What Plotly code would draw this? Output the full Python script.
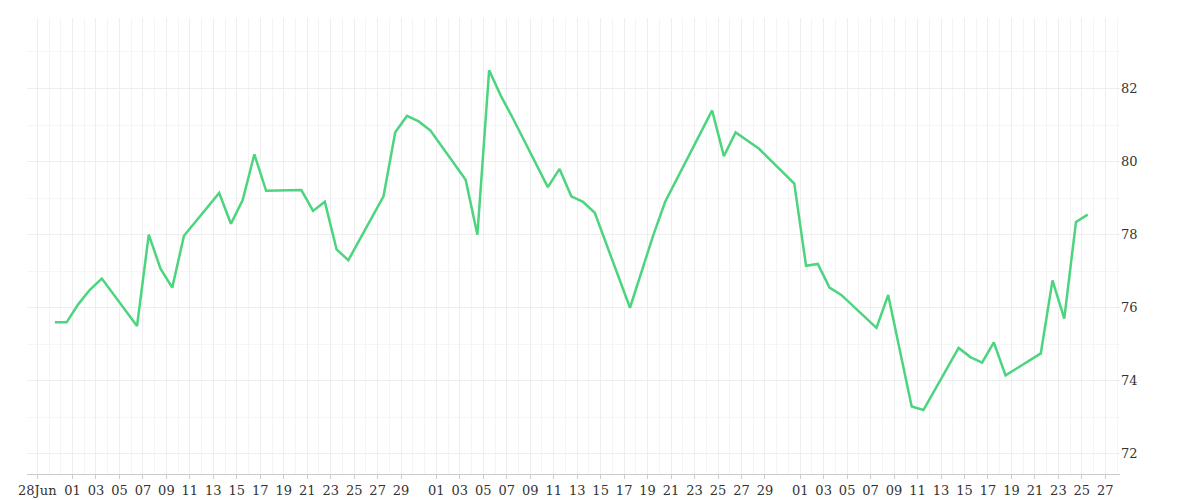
import pandas as pd
import plotly.graph_objects as go

dates = ["2023-06-29", "2023-06-30", "2023-07-01", "2023-07-02", "2023-07-03", "2023-07-06",
         "2023-07-07", "2023-07-08", "2023-07-09", "2023-07-10", "2023-07-13", "2023-07-14",
         "2023-07-15", "2023-07-16", "2023-07-17", "2023-07-20", "2023-07-21", "2023-07-22",
         "2023-07-23", "2023-07-24", "2023-07-27", "2023-07-28", "2023-07-29", "2023-07-30",
         "2023-07-31", "2023-08-03", "2023-08-04", "2023-08-05", "2023-08-06", "2023-08-07",
         "2023-08-10", "2023-08-11", "2023-08-12", "2023-08-13", "2023-08-14", "2023-08-17",
         "2023-08-19", "2023-08-20", "2023-08-24", "2023-08-25", "2023-08-26", "2023-08-28",
         "2023-08-31", "2023-09-01", "2023-09-02", "2023-09-03", "2023-09-04", "2023-09-07",
         "2023-09-08", "2023-09-10", "2023-09-11", "2023-09-14", "2023-09-15", "2023-09-16",
         "2023-09-17", "2023-09-18", "2023-09-21", "2023-09-22", "2023-09-23", "2023-09-24",
         "2023-09-25"]
values = [75.6, 75.6, 76.1, 76.5, 76.8, 75.5,
          78.0, 77.07, 76.55, 77.97, 79.14, 78.3,
          78.95, 80.2, 79.2, 79.22, 78.65, 78.9,
          77.6, 77.3, 79.05, 80.8, 81.25, 81.1,
          80.85, 79.5, 78.0, 82.5, 81.8, 81.2,
          79.3, 79.8, 79.05, 78.9, 78.6, 76.0,
          78.0, 78.9, 81.4, 80.15, 80.8, 80.35,
          79.4, 77.15, 77.2, 76.55, 76.35, 75.45,
          76.35, 73.3, 73.2, 74.9, 74.65, 74.5,
          75.05, 74.15, 74.75, 76.75, 75.7, 78.35,
          78.55]

x = pd.to_datetime(dates) + pd.Timedelta(hours=12)

# ticks every 2 days, restarting each month (d3 style)
tick_dates = [pd.Timestamp("2023-06-28")]
for m, last in [(7, 30), (8, 30), (9, 28)]:
    tick_dates += [pd.Timestamp(2023, m, d) for d in range(1, last, 2)]
tick_text = ["28Jun"] + [d.strftime("%d") for d in tick_dates[1:]]

fig = go.Figure(go.Scatter(x=x, y=values, mode="lines",
                           line=dict(color="#4cd47e", width=2.5)))

fig.update_layout(
    width=1200, height=500, template="plotly_white",
    margin=dict(l=15, r=88, t=10, b=32),
    showlegend=False,
    font=dict(family="DejaVu Serif", size=13, color="#333"),
)
fig.update_xaxes(
    range=["2023-06-27 03:00", "2023-09-28 06:00"],
    tickvals=tick_dates, ticktext=tick_text, tickangle=0,
    showgrid=True, gridcolor="#eee",
    minor=dict(dtick=86400000, showgrid=True, gridcolor="#f4f4f4"),
    showline=True, linecolor="#ccc", ticks="outside", ticklen=4, tickcolor="#ccc",
)
fig.update_yaxes(
    side="right", range=[71.45, 83.93], dtick=2,
    showgrid=True, gridcolor="#eee",
    minor=dict(dtick=1, showgrid=True, gridcolor="#f6f6f6"),
    zeroline=False,
)

fig.write_html("out.html")
